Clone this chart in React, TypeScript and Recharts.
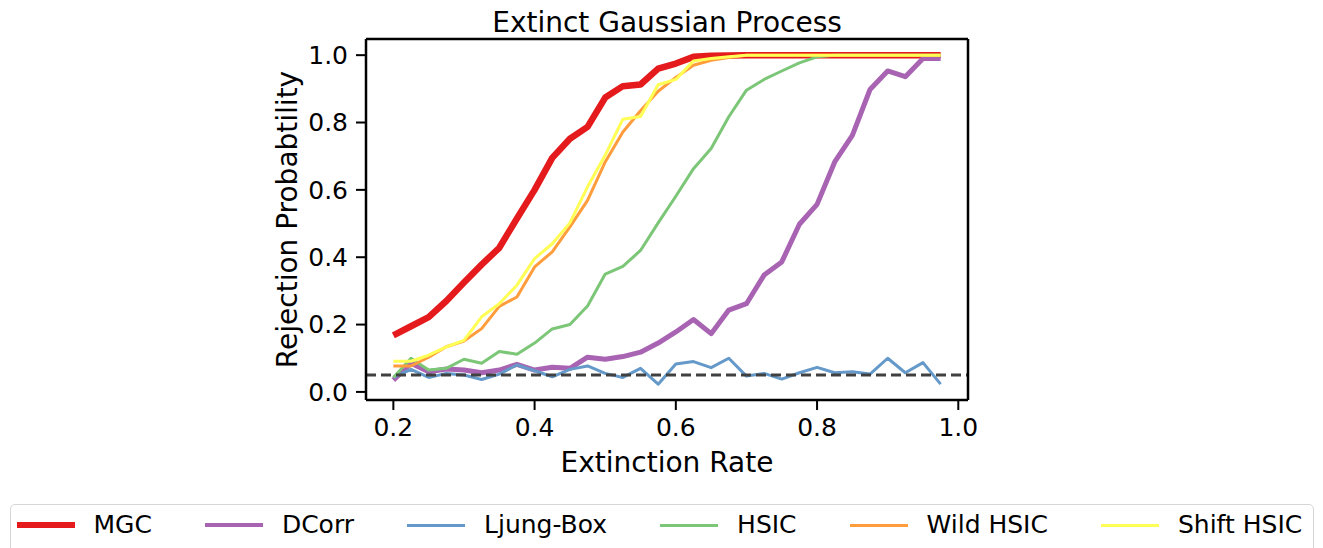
import React from 'react';
import { LineChart, Line, XAxis, YAxis, ReferenceLine } from 'recharts';

const extinctionRates = [
  0.2, 0.225, 0.25, 0.275, 0.3, 0.325, 0.35, 0.375, 0.4, 0.425, 0.45, 0.475,
  0.5, 0.525, 0.55, 0.575, 0.6, 0.625, 0.65, 0.675, 0.7, 0.725, 0.75, 0.775,
  0.8, 0.825, 0.85, 0.875, 0.9, 0.925, 0.95, 0.975,
];

const mgc = [
  0.168, 0.195, 0.222, 0.27, 0.325, 0.378, 0.428, 0.515, 0.6, 0.695, 0.752, 0.787,
  0.874, 0.908, 0.913, 0.96, 0.975, 0.995, 0.998, 0.999, 1, 1, 1, 1,
  1, 1, 1, 1, 1, 1, 1, 1,
];

const dcorr = [
  0.035, 0.085, 0.06, 0.068, 0.065, 0.057, 0.065, 0.082, 0.065, 0.073, 0.07, 0.103,
  0.097, 0.105, 0.118, 0.145, 0.178, 0.215, 0.173, 0.243, 0.262, 0.347, 0.386, 0.498,
  0.557, 0.683, 0.762, 0.898, 0.953, 0.936, 0.99, 0.99,
];

const ljungBox = [
  0.043, 0.067, 0.043, 0.055, 0.05, 0.037, 0.053, 0.08, 0.063, 0.045, 0.067, 0.077,
  0.055, 0.043, 0.07, 0.023, 0.083, 0.09, 0.072, 0.1, 0.047, 0.055, 0.038, 0.057,
  0.073, 0.057, 0.06, 0.053, 0.1, 0.057, 0.087, 0.023,
];

const hsic = [
  0.043, 0.1, 0.065, 0.07, 0.097, 0.085, 0.12, 0.112, 0.145, 0.187, 0.2, 0.255,
  0.35, 0.373, 0.42, 0.502, 0.581, 0.663, 0.723, 0.817, 0.896, 0.928, 0.953, 0.977,
  0.995, 1, 1, 1, 1, 1, 1, 1,
];

const wildHsic = [
  0.077, 0.077, 0.103, 0.134, 0.151, 0.188, 0.254, 0.282, 0.371, 0.416, 0.49, 0.569,
  0.683, 0.772, 0.835, 0.893, 0.934, 0.97, 0.985, 0.993, 1, 1, 1, 1,
  1, 1, 1, 1, 1, 1, 1, 1,
];

const shiftHsic = [
  0.091, 0.091, 0.109, 0.134, 0.153, 0.223, 0.262, 0.317, 0.396, 0.44, 0.502, 0.609,
  0.703, 0.81, 0.818, 0.912, 0.928, 0.983, 0.99, 0.995, 1, 1, 1, 1,
  1, 1, 1, 1, 1, 1, 1, 1,
];

const xTicks = [0.2, 0.4, 0.6, 0.8, 1.0];
const yTicks = [0.0, 0.2, 0.4, 0.6, 0.8, 1.0];
const alphaLevel = 0.05;
const xDomain = [0.16125, 1.01375];
const yDomain = [-0.024, 1.048];

const seriesNames = ['MGC', 'DCorr', 'Ljung-Box', 'HSIC', 'Wild HSIC', 'Shift HSIC'];
const seriesKeys = ['mgc', 'dcorr', 'ljung', 'hsic', 'wild', 'shift'];
const seriesColors = ['#e41a1c', '#a864b2', '#6499c9', '#7cc677', '#ff9c3c', '#ffff55'];
const seriesWidths = [6.5, 5, 3, 3, 3, 3];
const legendWidths = [6.5, 4.5, 3, 3, 3, 3];

const data = extinctionRates.map((x, i) => ({
  x,
  mgc: mgc[i],
  dcorr: dcorr[i],
  ljung: ljungBox[i],
  hsic: hsic[i],
  wild: wildHsic[i],
  shift: shiftHsic[i],
}));

const FONT = '"DejaVu Sans", sans-serif';
const tickStyle = { fontSize: 25, fill: '#000', fontFamily: FONT };

export default function App() {
  return (
    <div style={{ position: 'absolute', left: 0, top: 0, width: 1323, height: 548, background: '#fff', fontFamily: FONT }}>
      <div style={{ position: 'absolute', left: 0, top: 0 }}>
        <LineChart
          width={1323}
          height={548}
          data={data}
          margin={{ top: 39, right: 355, bottom: 88, left: 306 }}
        >
          <XAxis
            dataKey="x"
            type="number"
            domain={xDomain}
            allowDataOverflow
            ticks={xTicks}
            tickFormatter={(v: number) => v.toFixed(1)}
            height={60}
            tickSize={10}
            tickMargin={8}
            tick={tickStyle}
            axisLine={{ stroke: '#000', strokeWidth: 2.5 }}
            tickLine={{ stroke: '#000', strokeWidth: 2 }}
          />
          <YAxis
            type="number"
            domain={yDomain}
            allowDataOverflow
            ticks={yTicks}
            tickFormatter={(v: number) => v.toFixed(1)}
            width={60}
            tickSize={10}
            tickMargin={8}
            tick={tickStyle}
            axisLine={{ stroke: '#000', strokeWidth: 2.5 }}
            tickLine={{ stroke: '#000', strokeWidth: 2 }}
          />
          {seriesKeys.map((k, i) => (
            <Line
              key={k}
              type="linear"
              dataKey={k}
              name={seriesNames[i]}
              stroke={seriesColors[i]}
              strokeWidth={seriesWidths[i]}
              dot={false}
              activeDot={false}
              isAnimationActive={false}
              strokeLinejoin="round"
            />
          ))}
          <ReferenceLine
            y={alphaLevel}
            stroke="#404040"
            strokeWidth={3}
            strokeDasharray="10 5"
          />
          <ReferenceLine y={yDomain[1]} stroke="#000" strokeWidth={2.5} ifOverflow="visible" />
          <ReferenceLine x={xDomain[1]} stroke="#000" strokeWidth={2.5} ifOverflow="visible" />
        </LineChart>
      </div>
      <svg
        width={1323}
        height={548}
        style={{ position: 'absolute', left: 0, top: 0, pointerEvents: 'none' }}
      >
        <text x={667} y={31.5} textAnchor="middle" fontSize={28} fontFamily={FONT} fill="#000">
          Extinct Gaussian Process
        </text>
        <text x={667} y={472} textAnchor="middle" fontSize={28} fontFamily={FONT} fill="#000">
          Extinction Rate
        </text>
        <text
          x={0}
          y={0}
          transform="translate(297,219.5) rotate(-90)"
          textAnchor="middle"
          fontSize={28}
          fontFamily={FONT}
          fill="#000"
        >
          Rejection Probabtility
        </text>
      </svg>
      <div
        style={{
          position: 'absolute',
          left: 10,
          top: 504,
          width: 1304,
          height: 60,
          border: '1.5px solid #d6d6d6',
          borderRadius: 5,
          background: '#fff',
          boxSizing: 'border-box',
        }}
      >
        <div style={{ display: 'flex', alignItems: 'center', height: 40, paddingLeft: 5.5 }}>
          {seriesNames.map((n, i) => (
            <div key={n} style={{ display: 'flex', alignItems: 'center', marginRight: i < seriesNames.length - 1 ? 53 : 0 }}>
              <div style={{ width: 58, height: legendWidths[i], background: seriesColors[i], marginRight: 19 }} />
              <span style={{ fontSize: 25, fontFamily: FONT, color: '#000', whiteSpace: 'nowrap', lineHeight: '30px' }}>{n}</span>
            </div>
          ))}
        </div>
      </div>
    </div>
  );
}
